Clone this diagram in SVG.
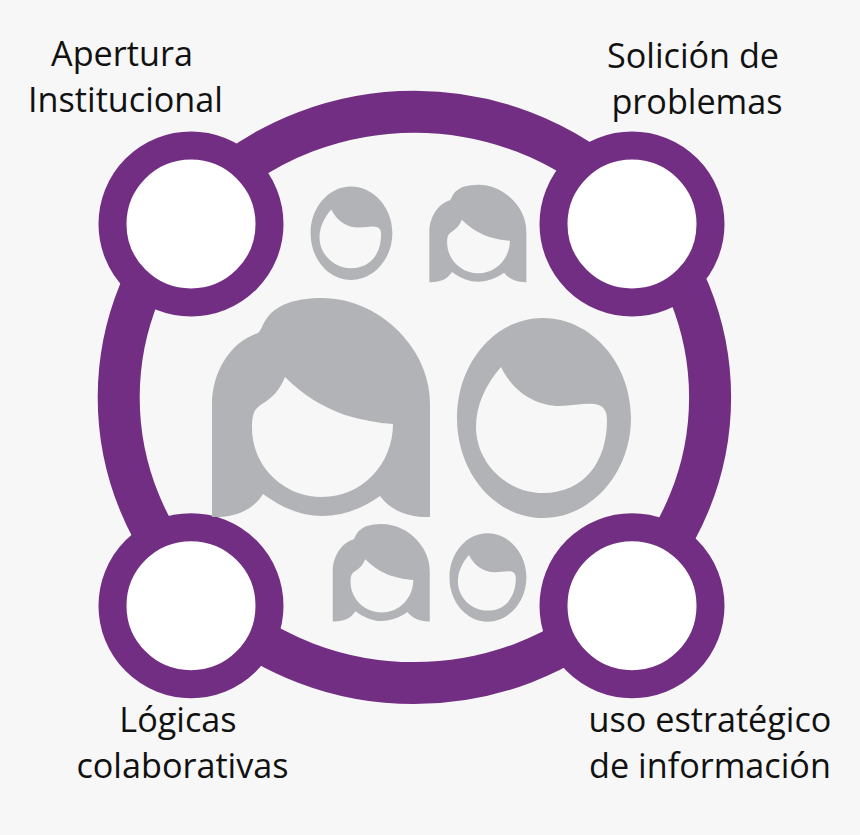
<svg xmlns="http://www.w3.org/2000/svg" xmlns:xlink="http://www.w3.org/1999/xlink" width="860" height="835" viewBox="0 0 860 835">
<style>
.ring{fill:none;stroke:#722e83;stroke-width:42}
.hub{fill:#fff;stroke:#722e83;stroke-width:28}
.head{fill:#b2b3b6;fill-rule:evenodd}
.lbl{font-family:"Open Sans","Noto Sans","Liberation Sans",sans-serif;font-size:34.2px;fill:#111;text-anchor:middle}
</style>
<defs>
<path id="woman" class="head" d="M212 517V405C212 370 232 341 258 333C261 331 262 325 267 318C277 304 297 298 322 298C352 298 382 312 403 336C421 356 430 380 430 405V517C410 518 391 511 380 496C362 509 342 516 322 516C302 516 282 508 263 494C253 510 235 518 212 517ZM285 377C302 394 322 407 345 415C362 420 378 423 393 424C393 464 362 497 322 497C283 497 252 466 252 428C252 414 254 409 262 404C272 398 280 390 285 377Z"/>
<path id="man" class="head" d="M543 318C591 318 631 363 631 418C631 473 591 518 543 518C495 518 457 473 457 418C457 363 495 318 543 318ZM501 367C512 390 534 406 560 406C572 406 584 403 594 404C603 405 607 410 607 420C607 462 584 493 543 493C506 493 476 462 476 427C476 405 486 384 501 367Z"/>
</defs>
<rect id="background" width="860" height="835" fill="#f7f7f7"/>
<g id="connectors">
<ellipse class="ring" cx="414.4" cy="397.4" rx="295.7" ry="285.7"/>
</g>
<g id="node-apertura">
<circle class="hub" cx="191" cy="224" r="78.5"/>
<text class="lbl" x="122" y="66">Apertura</text>
<text class="lbl" x="125.500" y="112">Institucional</text>
</g>
<g id="node-solicion">
<circle class="hub" cx="632" cy="224" r="78.500"/>
<text class="lbl" x="693" y="68">Solición de</text>
<text class="lbl" x="697" y="114">problemas</text>
</g>
<g id="node-logicas">
<circle class="hub" cx="191" cy="605.700" r="78.500"/>
<text class="lbl" x="178" y="732">Lógicas</text>
<text class="lbl" x="182.500" y="778">colaborativas</text>
</g>
<g id="node-uso">
<circle class="hub" cx="632" cy="605.700" r="78.500"/>
<text class="lbl" x="710" y="732">uso estratégico</text>
<text class="lbl" x="710" y="778">de información</text>
</g>
<g id="person-woman-large"><use xlink:href="#woman" href="#woman"/></g>
<g id="person-man-large"><use xlink:href="#man" href="#man"/></g>
<g id="person-man-top"><use xlink:href="#man" href="#man" transform="translate(95.800 38) scale(.47 .467)"/></g>
<g id="person-woman-top"><use xlink:href="#woman" href="#woman" transform="translate(335 52.100) scale(.445)"/></g>
<g id="person-woman-bottom"><use xlink:href="#woman" href="#woman" transform="translate(238.400 391.400) scale(.445)"/></g>
<g id="person-man-bottom"><use xlink:href="#man" href="#man" transform="translate(247.500 392.700) scale(.442)"/></g>
</svg>
